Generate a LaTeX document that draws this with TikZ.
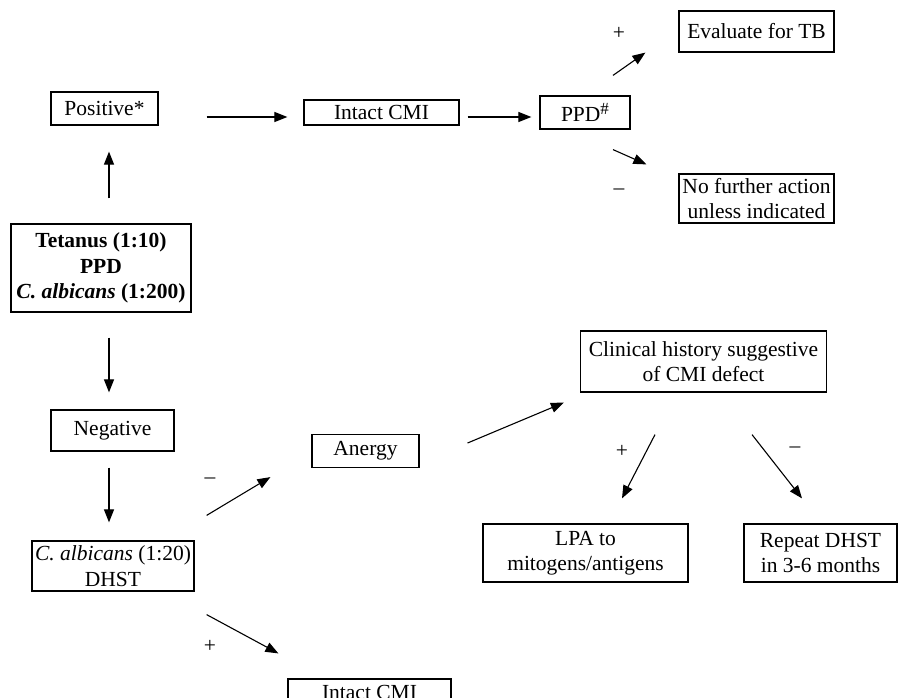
\documentclass[tikz,border=0pt]{standalone}
\usepackage{fontspec}
\setmainfont{Liberation Serif}
\usetikzlibrary{arrows.meta,calc}
\begin{document}
\begin{tikzpicture}[x=1pt,y=-1pt,
  box/.style={draw,line width=1.2pt,inner sep=0pt,align=center,
    font=\fontsize{21.5}{25.5}\selectfont},
  arr/.style={line width=1.1pt,-{Triangle[length=13pt,width=10pt]}},
  sign/.style={inner sep=0pt,font=\fontsize{21.5}{25.5}\selectfont}]
\useasboundingbox (0,0) rectangle (898,698);
\begin{scope}
\clip (0,0) rectangle (898,698);
% boxes
\node[box,minimum width=107pt,minimum height=33pt] (pos) at (104.5,108.5) {Positive*};
\node[box,minimum width=155pt,minimum height=25pt] (icmi1) at (381.5,112.5) {Intact CMI};
\node[box,minimum width=90pt,minimum height=33pt] (ppd) at (585,112.5)
  {PPD\raisebox{0.3em}{\fontsize{17}{17}\selectfont\#}};
\node[box,minimum width=155pt,minimum height=41pt] (evtb) at (756.5,31.5) {Evaluate for TB};
\node[box,minimum width=155pt,minimum height=49pt] (nfa) at (756.5,198.5) {No further action\\unless indicated};
\node[box,minimum width=180pt,minimum height=88pt] (tet) at (101,268)
  {\textbf{Tetanus (1:10)}\\\textbf{PPD}\\\textbf{\textit{C. albicans} (1:200)}};
\node[box,minimum width=123pt,minimum height=41pt] (neg) at (112.5,430.5) {Negative};
\node[box,minimum width=162pt,minimum height=50pt] (cal) at (113,566) {\textit{C. albicans} (1:20)\\DHST};
\node[box,minimum width=107pt,minimum height=33pt] (anergy) at (365.5,451) {Anergy};
\node[box,minimum width=246pt,minimum height=61pt] (clin) at (703.5,361.5) {Clinical history suggestive\\of CMI defect};
\node[box,minimum width=205pt,minimum height=58pt] (lpa) at (585.5,553) {LPA to\\mitogens/antigens};
\node[box,minimum width=153pt,minimum height=58pt] (rep) at (820.5,553) {Repeat DHST\\in 3-6 months};
\node[box,minimum width=163pt,minimum height=26pt] (icmi2) at (369.5,692) {Intact CMI};
% connectors
\draw[arr] ($(pos.east)+(48,8.5)$) -- ($(icmi1.west)+(-16,4.5)$);
\draw[arr] ($(icmi1.east)+(8,4.5)$) -- ($(ppd.west)+(-8,4.5)$);
\draw[arr] ($(ppd.north)+(28,-20)$) -- ($(evtb.south west)+(-33,0)$);
\draw[arr] ($(ppd.south)+(28,20)$) -- ($(nfa.north west)+(-32,-9)$);
\draw[arr] ($(tet.north)+(8,-25)$) -- ($(pos.south)+(4.5,26)$);
\draw[arr] ($(tet.south)+(8,25)$) -- ($(neg.north)+(-3.5,-17)$);
\draw[arr] ($(neg.south)+(-3.5,16)$) -- ($(cal.north)+(-4,-18)$);
\draw[arr] ($(cal.north east)+(12,-25)$) -- ($(anergy.south west)+(-41,9)$);
\draw[arr] ($(cal.south east)+(12,23)$) -- ($(icmi2.north west)+(-9,-25)$);
\draw[arr] ($(anergy.east)+(48,-8)$) -- ($(clin.south west)+(-16,10)$);
\draw[arr] ($(clin.south)+(-48.5,42)$) -- ($(lpa.north)+(36.5,-25)$);
\draw[arr] ($(clin.south)+(48.5,42)$) -- ($(rep.north)+(-18.5,-25)$);
% branch signs
\node[sign] (s1) at (619,33) {+};
\node[sign] (s2) at (619,192) {–};
\node[sign] (s3) at (210,481) {–};
\node[sign] (s4) at (210,646) {+};
\node[sign] (s5) at (622,451) {+};
\node[sign] (s6) at (795,450) {–};
\end{scope}
\end{tikzpicture}
\end{document}
